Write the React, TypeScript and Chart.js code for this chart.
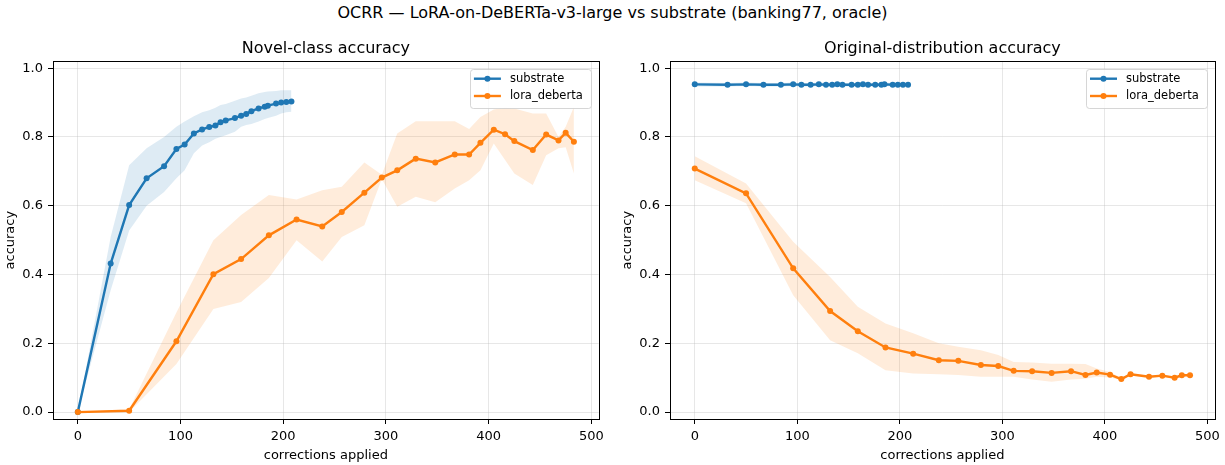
import React, { useEffect, useRef } from "react";
import { Chart, registerables } from "chart.js";

Chart.register(...registerables);

const FONT = '"DejaVu Sans", "Liberation Sans", sans-serif';
const BLUE = "#1f77b4";
const ORANGE = "#ff7f0e";
const BLUE_BAND = "rgba(31,119,180,0.15)";
const ORANGE_BAND = "rgba(255,127,14,0.15)";

const SUPTITLE = "OCRR — LoRA-on-DeBERTa-v3-large vs substrate (banking77, oracle)";
const PANEL_TITLES = ["Novel-class accuracy", "Original-distribution accuracy"];
const X_LABEL = "corrections applied";
const Y_LABEL = "accuracy";
const SERIES_NAMES = ["substrate", "lora_deberta"];

const xTicks = [0, 100, 200, 300, 400, 500];
const yTicks = [0, 0.2, 0.4, 0.6, 0.8, 1.0];

// substrate
const substrateX = [0, 32, 50, 67, 84, 96, 104, 113, 121, 128, 134, 139, 144, 153, 159, 164, 169, 176, 182, 185, 193, 198, 203, 208];
const substrateNovel = [0, 0.432, 0.602, 0.68, 0.715, 0.765, 0.778, 0.81, 0.822, 0.829, 0.833, 0.843, 0.848, 0.855, 0.862, 0.867, 0.875, 0.883, 0.888, 0.891, 0.897, 0.9, 0.902, 0.903];
const substrateNovelLo = [0, 0.354, 0.528, 0.6, 0.64, 0.68, 0.703, 0.753, 0.775, 0.785, 0.795, 0.8, 0.805, 0.815, 0.83, 0.835, 0.838, 0.845, 0.852, 0.855, 0.862, 0.868, 0.872, 0.873];
const substrateNovelHi = [0, 0.509, 0.718, 0.767, 0.8, 0.83, 0.845, 0.86, 0.872, 0.878, 0.885, 0.893, 0.896, 0.905, 0.912, 0.915, 0.92, 0.927, 0.931, 0.932, 0.934, 0.936, 0.936, 0.936];
const substrateOrig = [0.953, 0.952, 0.953, 0.952, 0.952, 0.953, 0.952, 0.952, 0.953, 0.952, 0.952, 0.953, 0.952, 0.952, 0.952, 0.953, 0.952, 0.952, 0.952, 0.953, 0.952, 0.952, 0.952, 0.952];
const substrateOrigLo = [0.947, 0.947, 0.948, 0.947, 0.947, 0.948, 0.947, 0.947, 0.948, 0.947, 0.947, 0.948, 0.947, 0.947, 0.947, 0.948, 0.947, 0.947, 0.947, 0.948, 0.947, 0.947, 0.947, 0.947];
const substrateOrigHi = [0.958, 0.957, 0.958, 0.957, 0.957, 0.958, 0.957, 0.957, 0.958, 0.957, 0.957, 0.958, 0.957, 0.957, 0.957, 0.958, 0.957, 0.957, 0.957, 0.958, 0.957, 0.957, 0.957, 0.957];

// lora_deberta
const loraX = [0, 50, 96, 132, 159, 186, 213, 238, 257, 279, 296, 311, 329, 348, 367, 381, 392, 405, 416, 425, 443, 456, 468, 475, 483];
const loraNovel = [0, 0.004, 0.206, 0.401, 0.445, 0.514, 0.56, 0.54, 0.582, 0.638, 0.682, 0.703, 0.737, 0.726, 0.749, 0.749, 0.783, 0.821, 0.808, 0.788, 0.762, 0.807, 0.79, 0.812, 0.786];
const loraNovelLo = [0, 0, 0.14, 0.3, 0.32, 0.39, 0.5, 0.438, 0.509, 0.543, 0.678, 0.597, 0.626, 0.61, 0.65, 0.674, 0.703, 0.781, 0.733, 0.694, 0.66, 0.747, 0.767, 0.77, 0.694];
const loraNovelHi = [0, 0.008, 0.29, 0.5, 0.573, 0.631, 0.618, 0.645, 0.655, 0.726, 0.69, 0.81, 0.846, 0.846, 0.846, 0.823, 0.858, 0.88, 0.885, 0.883, 0.868, 0.868, 0.8, 0.83, 0.887];
const loraOrig = [0.708, 0.636, 0.418, 0.294, 0.235, 0.188, 0.17, 0.151, 0.149, 0.137, 0.134, 0.12, 0.119, 0.114, 0.119, 0.108, 0.115, 0.109, 0.096, 0.11, 0.103, 0.106, 0.1, 0.107, 0.107];
const loraOrigLo = [0.674, 0.607, 0.34, 0.209, 0.171, 0.122, 0.112, 0.11, 0.108, 0.103, 0.103, 0.103, 0.095, 0.088, 0.095, 0.097, 0.103, 0.101, 0.093, 0.107, 0.1, 0.103, 0.097, 0.104, 0.104];
const loraOrigHi = [0.744, 0.665, 0.495, 0.393, 0.306, 0.258, 0.229, 0.2, 0.19, 0.18, 0.166, 0.146, 0.144, 0.141, 0.141, 0.14, 0.127, 0.117, 0.099, 0.113, 0.106, 0.109, 0.103, 0.11, 0.11];

type Band = { x: number[]; y: number[]; lo: number[]; hi: number[] };

const pts = (xs: number[], ys: number[]) => xs.map((x, i) => ({ x, y: ys[i] }));

function framePlugin(items: { label: string; color: string }[]) {
  return {
    id: "mplFrame",
    afterDraw(chart: any) {
      const { ctx, chartArea: a } = chart;
      ctx.save();
      // spines
      ctx.strokeStyle = "#000";
      ctx.lineWidth = 1;
      ctx.strokeRect(Math.round(a.left) + 0.5, Math.round(a.top) + 0.5, Math.round(a.right - a.left), Math.round(a.bottom - a.top));
      // legend
      ctx.font = `11.5px ${FONT}`;
      const tw = Math.max(...items.map((it) => ctx.measureText(it.label).width));
      const w = 40 + tw + 8;
      const rowH = 17.3;
      const h = 4.4 + rowH * items.length;
      const right = a.right - 8;
      const left = right - w;
      const top = a.top + 7.4;
      ctx.beginPath();
      (ctx as any).roundRect(Math.round(left) + 0.5, Math.round(top) + 0.5, Math.round(w), Math.round(h), 3);
      ctx.fillStyle = "rgba(255,255,255,0.8)";
      ctx.fill();
      ctx.strokeStyle = "rgba(204,204,204,0.8)";
      ctx.lineWidth = 1;
      ctx.stroke();
      items.forEach((it, i) => {
        const cy = top + 10 + i * rowH;
        ctx.strokeStyle = it.color;
        ctx.lineWidth = 2.4;
        ctx.beginPath();
        ctx.moveTo(left + 4, cy);
        ctx.lineTo(left + 31, cy);
        ctx.stroke();
        ctx.fillStyle = it.color;
        ctx.beginPath();
        ctx.arc(left + 17.5, cy, 3, 0, Math.PI * 2);
        ctx.fill();
        ctx.fillStyle = "#000";
        ctx.textBaseline = "middle";
        ctx.textAlign = "left";
        ctx.fillText(it.label, left + 40, cy);
      });
      ctx.restore();
    },
  };
}

function makeConfig(title: string, sub: Band, lora: Band, padRight: number): any {
  const line = (label: string, b: Band, color: string) => ({
    label,
    data: pts(b.x, b.y),
    borderColor: color,
    backgroundColor: color,
    borderWidth: 2.4,
    pointRadius: 3,
    pointBorderWidth: 0,
    pointBackgroundColor: color,
    fill: false,
    tension: 0,
  });
  const edge = (data: any, fill: any, color: string) => ({
    label: "",
    data,
    borderColor: "rgba(0,0,0,0)",
    borderWidth: 0,
    pointRadius: 0,
    backgroundColor: color,
    fill,
    tension: 0,
  });
  return {
    type: "line",
    data: {
      datasets: [
        line(SERIES_NAMES[1], lora, ORANGE),
        line(SERIES_NAMES[0], sub, BLUE),
        edge(pts(sub.x, sub.lo), false, BLUE_BAND),
        edge(pts(sub.x, sub.hi), { target: 2, above: BLUE_BAND, below: BLUE_BAND }, BLUE_BAND),
        edge(pts(lora.x, lora.lo), false, ORANGE_BAND),
        edge(pts(lora.x, lora.hi), { target: 4, above: ORANGE_BAND, below: ORANGE_BAND }, ORANGE_BAND),
      ],
    },
    options: {
      responsive: false,
      animation: false,
      events: [],
      devicePixelRatio: 1,
      layout: { padding: { left: 0, right: padRight, top: 0, bottom: 0 } },
      plugins: {
        legend: { display: false },
        tooltip: { enabled: false },
        title: {
          display: true,
          text: title,
          fullSize: false,
          color: "#000",
          font: { family: FONT, size: 16, weight: "normal", lineHeight: 1.2 },
          padding: { top: 39.4, bottom: 2.7 },
        },
      },
      scales: {
        x: {
          type: "linear",
          min: -24.15,
          max: 507.15,
          afterFit: (s: any) => {
            s.height = 46;
          },
          afterBuildTicks: (s: any) => {
            s.ticks = xTicks.map((v) => ({ value: v }));
          },
          ticks: {
            color: "#000",
            font: { family: FONT, size: 13 },
            padding: 5,
            maxRotation: 0,
            callback: (v: any) => String(v),
          },
          grid: {
            color: "rgba(176,176,176,0.3)",
            lineWidth: 1,
            tickColor: "#000",
            tickLength: 5,
            tickWidth: 1,
          },
          border: { display: false },
          title: {
            display: true,
            text: X_LABEL,
            color: "#000",
            font: { family: FONT, size: 13 },
            padding: { top: 0, bottom: 2 },
          },
        },
        y: {
          type: "linear",
          min: -0.02,
          max: 1.02,
          afterFit: (s: any) => {
            s.width = 53;
          },
          afterBuildTicks: (s: any) => {
            s.ticks = yTicks.map((v) => ({ value: v }));
          },
          ticks: {
            color: "#000",
            font: { family: FONT, size: 13 },
            padding: 5,
            callback: (v: any) => Number(v).toFixed(1),
          },
          grid: {
            color: "rgba(176,176,176,0.3)",
            lineWidth: 1,
            tickColor: "#000",
            tickLength: 5,
            tickWidth: 1,
          },
          border: { display: false },
          title: {
            display: true,
            text: Y_LABEL,
            color: "#000",
            font: { family: FONT, size: 13 },
            padding: { top: 3, bottom: 0 },
          },
        },
      },
    },
    plugins: [
      framePlugin([
        { label: SERIES_NAMES[0], color: BLUE },
        { label: SERIES_NAMES[1], color: ORANGE },
      ]),
    ],
  };
}

function Panel(props: { left: number; width: number; title: string; sub: Band; lora: Band; padRight: number }) {
  const ref = useRef<HTMLCanvasElement | null>(null);
  useEffect(() => {
    if (!ref.current) return;
    const chart = new Chart(ref.current, makeConfig(props.title, props.sub, props.lora, props.padRight));
    return () => chart.destroy();
  }, []);
  return (
    <canvas
      ref={ref}
      width={props.width}
      height={465}
      style={{ position: "absolute", left: props.left, top: 0, width: props.width, height: 465, display: "block" }}
    />
  );
}

export default function App() {
  return (
    <div style={{ position: "absolute", left: 0, top: 0, width: 1225, height: 465, background: "#fff", overflow: "hidden" }}>
      <div
        style={{
          position: "absolute",
          left: 0,
          top: 3,
          width: 1225,
          textAlign: "center",
          fontFamily: FONT,
          fontSize: 16,
          lineHeight: "20px",
          color: "#000",
        }}
      >
        {SUPTITLE}
      </div>
      <Panel
        left={0}
        width={612}
        title={PANEL_TITLES[0]}
        padRight={13.3}
        sub={{ x: substrateX, y: substrateNovel, lo: substrateNovelLo, hi: substrateNovelHi }}
        lora={{ x: loraX, y: loraNovel, lo: loraNovelLo, hi: loraNovelHi }}
      />
      <Panel
        left={617}
        width={608}
        title={PANEL_TITLES[1]}
        padRight={9.3}
        sub={{ x: substrateX, y: substrateOrig, lo: substrateOrigLo, hi: substrateOrigHi }}
        lora={{ x: loraX, y: loraOrig, lo: loraOrigLo, hi: loraOrigHi }}
      />
    </div>
  );
}
